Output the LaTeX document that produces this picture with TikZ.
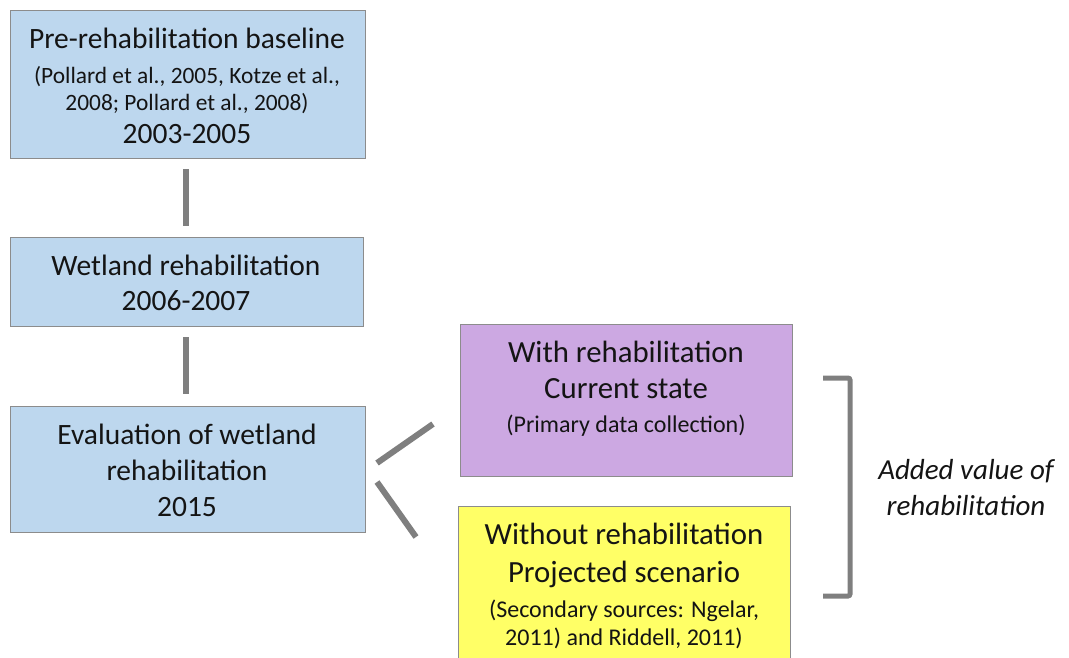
\documentclass[tikz,border=0pt]{standalone}
\usepackage{fontspec}
\setmainfont{Carlito}
\definecolor{boxblue}{RGB}{189,215,238}
\definecolor{boxpurple}{RGB}{204,168,226}
\definecolor{boxyellow}{RGB}{255,255,102}
\definecolor{edgegray}{RGB}{140,140,140}
\definecolor{linkgray}{RGB}{127,127,127}
\definecolor{txt}{RGB}{20,20,20}
\newcommand{\bigtxt}{\fontsize{29.5}{27}\selectfont}
\newcommand{\smalltxt}{\fontsize{23.4}{27}\selectfont}
\newcommand{\rbigtxt}{\fontsize{30.8}{27}\selectfont}
\newcommand{\rsmalltxt}{\fontsize{24}{27}\selectfont}
\begin{document}
\begin{tikzpicture}[x=1pt,y=-1pt,
  boxnode/.style={draw=edgegray,line width=1.3pt,anchor=north west,inner sep=0pt},
  lbl/.style={align=center,inner sep=0pt,text=txt,font=\bigtxt},
  link/.style={draw=linkgray,line width=6pt},
  bracketline/.style={draw=linkgray,line width=5pt,rounded corners=2pt}]
\useasboundingbox (0,0) rectangle (1069,657);
\clip (0,0) rectangle (1069,657);

% stage boxes on the left
\node[boxnode,fill=boxblue,minimum width=355pt,minimum height=148pt] (b1) at (10,10) {};
\node[boxnode,fill=boxblue,minimum width=353pt,minimum height=89pt] (b2) at (10,237) {};
\node[boxnode,fill=boxblue,minimum width=355pt,minimum height=126pt] (b3) at (10,406) {};

% scenario boxes on the right
\node[boxnode,fill=boxpurple,minimum width=332pt,minimum height=152pt] (b4) at (460,324) {};
\node[boxnode,fill=boxyellow,minimum width=332pt,minimum height=170pt] (b5) at (458,506) {};

% box texts
\node[lbl] (t1) at (187,86) {Pre-rehabilitation baseline\\[8pt]
  {\smalltxt (Pollard et al., 2005, Kotze et al.,}\\
  {\smalltxt 2008; Pollard et al., 2008)}\\[6pt]
  2003-2005};
\node[lbl] (t2) at (186,283) {Wetland rehabilitation\\[8pt] 2006-2007};
\node[lbl] (t3) at (187,470) {Evaluation of wetland\\[9pt] rehabilitation\\[9pt] 2015};
\node[lbl,font=\rbigtxt] (t4) at (626,389) {With rehabilitation\\[9pt] Current state\\[7pt]
  {\rsmalltxt (Primary data collection)}};
\node[lbl,font=\rbigtxt] (t5) at (624,586) {Without rehabilitation\\[11pt] Projected scenario\\[8pt]
  {\rsmalltxt (Secondary sources: Ngelar,}\\[1pt]
  {\rsmalltxt 2011) and Riddell, 2011)}};

% vertical links between stages
\draw[link,shorten <=10pt,shorten >=11pt] (b1.south -| 186,0) -- (b2.north -| 186,0);
\draw[link,shorten <=10pt,shorten >=12pt] (b2.south -| 186,0) -- (b3.north -| 186,0);

% branches from the evaluation box
\coordinate (d1s) at (377,463);
\coordinate (d1e) at (433,424);
\coordinate (d2s) at (377,482);
\coordinate (d2e) at (416,537);
\draw[link] (d1s) -- (d1e);
\draw[link] (d2s) -- (d2e);

% bracket and its caption
\coordinate (bk1) at (823,378);
\coordinate (bk2) at (850,378);
\coordinate (bk3) at (850,596);
\coordinate (bk4) at (823,596);
\draw[bracketline] (bk1) -- (bk2) -- (bk3) -- (bk4);
\node[lbl,font=\fontsize{29}{27}\selectfont\itshape] (cap) at (966,488) {Added value of\\[9pt] rehabilitation};
\end{tikzpicture}
\end{document}
